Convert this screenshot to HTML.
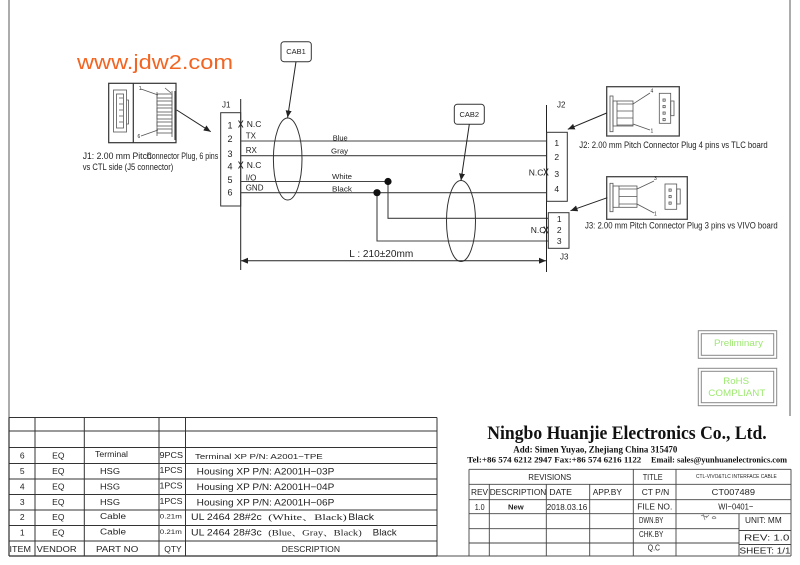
<!DOCTYPE html>
<html><head><meta charset="utf-8"><style>
html,body{margin:0;padding:0;background:#fff;}
svg{display:block;}
text{font-family:"Liberation Sans",sans-serif;dominant-baseline:central;fill:#222;}
.s{font-family:"Liberation Serif","Noto Serif CJK SC",serif;font-weight:bold;fill:#111;}
.c{font-family:"Liberation Serif","Noto Serif CJK SC",serif;}
.g{stroke:#555;stroke-width:0.8;fill:none;}
</style></head><body>
<svg width="800" height="565" viewBox="0 0 800 565" xmlns="http://www.w3.org/2000/svg">
<defs>
<marker id="ah" markerWidth="8" markerHeight="6" refX="7" refY="3" orient="auto-start-reverse" markerUnits="userSpaceOnUse"><path d="M0,0 L7,3 L0,6 z" fill="#222"/></marker>
</defs>
<rect width="800" height="565" fill="#fff"/>
<!-- page frame -->
<g stroke="#888" stroke-width="1.4" fill="none">
<line x1="9" y1="0" x2="9" y2="556"/>
<line x1="790" y1="0" x2="790" y2="416"/>
<line x1="9" y1="556" x2="791" y2="556"/>
</g>

<text x="77" y="63" font-size="20" fill="#f26522" style="fill:#f26522" textLength="156" lengthAdjust="spacingAndGlyphs">www.jdw2.com</text>

<!-- J1 connector picture -->
<rect x="108.7" y="83.3" width="67.3" height="59.4" fill="none" stroke="#333" stroke-width="1.2"/>
<line x1="133.3" y1="83.3" x2="133.3" y2="142.7" stroke="#333" stroke-width="1.2"/>
<rect x="113.5" y="90" width="13" height="42" class="g"/>
<rect x="116.5" y="94" width="7" height="34" class="g"/>
<g class="g">
<path d="M119,98h4M119,104h4M119,110h4M119,116h4M119,122h4"/>
<path d="M126.5,100h2v24h-2"/>
</g>
<g class="g">
<line x1="157" y1="92" x2="157" y2="136"/>
<rect x="157" y="94" width="15" height="4"/>
<rect x="157" y="101" width="15" height="4"/>
<rect x="157" y="108" width="15" height="4"/>
<rect x="157" y="115" width="15" height="4"/>
<rect x="157" y="122" width="15" height="4"/>
<rect x="157" y="129" width="15" height="4"/>
<line x1="172" y1="91" x2="172" y2="137"/>
<line x1="175" y1="91" x2="175" y2="140" stroke="#444" stroke-width="1.2"/>
<line x1="141" y1="89" x2="158" y2="95"/>
<line x1="141" y1="136" x2="158" y2="130"/>
<line x1="165" y1="88" x2="171" y2="93"/>
</g>
<text x="138.7" y="89" font-size="5" fill="#555">1</text>
<text x="137.5" y="137" font-size="5" fill="#555">6</text>
<line x1="176.7" y1="110" x2="210.7" y2="131.7" stroke="#222" stroke-width="1" marker-end="url(#ah)"/>
<text x="82.7" y="156" font-size="9" textLength="69" lengthAdjust="spacingAndGlyphs">J1: 2.00 mm Pitch</text>
<text x="146.7" y="156" font-size="9" textLength="71.6" lengthAdjust="spacingAndGlyphs">Connector Plug, 6 pins</text>
<text x="82.7" y="167" font-size="9" textLength="90.6" lengthAdjust="spacingAndGlyphs">vs CTL side (J5 connector)</text>

<!-- J1 -->
<text x="222" y="105" font-size="8">J1</text>
<line x1="240.7" y1="99" x2="240.7" y2="270" stroke="#222" stroke-width="1"/>
<rect x="220.7" y="112.7" width="20" height="93.3" fill="none" stroke="#333" stroke-width="1"/>
<g font-size="9" text-anchor="middle">
<text x="230" y="125.7">1</text><text x="230" y="139">2</text><text x="230" y="154">3</text>
<text x="230" y="166.7">4</text><text x="230" y="180">5</text><text x="230" y="192.7">6</text>
</g>
<g stroke="#222" stroke-width="0.9">
<path d="M238.5,120.5L243,127.5M243,120.5L238.5,127.5"/>
<path d="M238.5,161.5L243,168.5M243,161.5L238.5,168.5"/>
</g>
<g font-size="8.5">
<text x="246.7" y="124">N.C</text><text x="246.7" y="165">N.C</text>
</g>
<g font-size="8">
<text x="245.7" y="136">TX</text><text x="245.7" y="150.7">RX</text>
<text x="245.7" y="178">I/O</text><text x="245.7" y="188">GND</text>
</g>
<g font-size="7.5" font-family="Liberation Mono">
<text x="332.7" y="138" textLength="15" lengthAdjust="spacingAndGlyphs">Blue</text>
<text x="331" y="151" textLength="17" lengthAdjust="spacingAndGlyphs">Gray</text>
<text x="332" y="176.7" textLength="20" lengthAdjust="spacingAndGlyphs">White</text>
<text x="332" y="189" textLength="20" lengthAdjust="spacingAndGlyphs">Black</text>
</g>

<!-- wires -->
<g stroke="#444" stroke-width="1.1" fill="none">
<path d="M241,141H546.7"/>
<path d="M241,155.7H546.7"/>
<path d="M241,181.5H388V218.3H548.3"/>
<path d="M241,192.7H546.7"/>
<path d="M377,192.7V241H548.3"/>
</g>
<circle cx="388" cy="181.5" r="3.6" fill="#111"/>
<circle cx="377" cy="192.7" r="3.6" fill="#111"/>

<!-- CAB1 -->
<ellipse cx="287.7" cy="159" rx="14.3" ry="41" fill="none" stroke="#333" stroke-width="1"/>
<rect x="281" y="41.7" width="30.3" height="20" rx="3" fill="#fff" stroke="#333" stroke-width="1"/>
<text x="296" y="51.7" font-size="7.5" text-anchor="middle">CAB1</text>
<line x1="296" y1="61.7" x2="287.6" y2="117.5" stroke="#222" stroke-width="1" marker-end="url(#ah)"/>
<!-- CAB2 -->
<ellipse cx="461" cy="221" rx="14.5" ry="40.5" fill="none" stroke="#333" stroke-width="1"/>
<rect x="454.3" y="104.3" width="30" height="20" rx="3" fill="#fff" stroke="#333" stroke-width="1"/>
<text x="469.3" y="114.3" font-size="7.5" text-anchor="middle">CAB2</text>
<line x1="469.3" y1="124.3" x2="461" y2="180.5" stroke="#222" stroke-width="1" marker-end="url(#ah)"/>

<!-- J2 / J3 -->
<line x1="546.5" y1="105" x2="546.5" y2="272" stroke="#222" stroke-width="1"/>
<text x="557" y="105" font-size="8">J2</text>
<rect x="546.7" y="132.3" width="20.6" height="69" fill="none" stroke="#333" stroke-width="1"/>
<g font-size="8.5" text-anchor="middle">
<text x="556.7" y="143">1</text><text x="556.7" y="157">2</text><text x="556.7" y="174">3</text><text x="556.7" y="189">4</text>
</g>
<text x="528.7" y="172.7" font-size="8.5">N.C</text>
<path d="M543.8,168.5L548.2,175.5M548.2,168.5L543.8,175.5" stroke="#222" stroke-width="0.9"/>
<rect x="548.3" y="212.7" width="20.7" height="35.6" fill="none" stroke="#333" stroke-width="1"/>
<g font-size="8.5" text-anchor="middle">
<text x="559.3" y="219">1</text><text x="559.3" y="230">2</text><text x="559.3" y="241">3</text>
</g>
<text x="530.7" y="230" font-size="8.5">N.C</text>
<path d="M543.8,226.5L548.2,233.5M548.2,226.5L543.8,233.5" stroke="#222" stroke-width="0.9"/>
<text x="560" y="257" font-size="8">J3</text>

<!-- dimension -->
<line x1="241" y1="260.7" x2="546" y2="260.7" stroke="#222" stroke-width="1" marker-start="url(#ah)" marker-end="url(#ah)"/>
<text x="349.3" y="254" font-size="10.5" textLength="64" lengthAdjust="spacingAndGlyphs">L : 210±20mm</text>

<!-- J2 picture -->
<rect x="606.7" y="86.7" width="72.6" height="49.3" fill="none" stroke="#444" stroke-width="1.3"/>
<g class="g">
<rect x="610" y="96" width="3" height="35.7"/>
<rect x="613" y="101" width="20" height="25"/>
<path d="M617,104h16M617,111h16M617,118h16M617,125h16M617,101v25"/>
<line x1="650" y1="93" x2="633" y2="104"/>
<line x1="650" y1="130" x2="633" y2="124"/>
<rect x="659.3" y="93.3" width="11.4" height="30"/>
<rect x="670.7" y="101" width="3.3" height="14.7"/>
<rect x="663" y="99" width="2.2" height="2.2"/><rect x="663" y="105.5" width="2.2" height="2.2"/>
<rect x="663" y="112" width="2.2" height="2.2"/><rect x="663" y="118.5" width="2.2" height="2.2"/>
</g>
<text x="650.5" y="91.7" font-size="5" fill="#555">4</text>
<text x="650.5" y="131.7" font-size="5" fill="#555">1</text>
<line x1="606.7" y1="113" x2="567.8" y2="129.3" stroke="#222" stroke-width="1" marker-end="url(#ah)"/>
<text x="579.3" y="145" font-size="9" textLength="188.4" lengthAdjust="spacingAndGlyphs">J2: 2.00 mm Pitch Connector Plug 4 pins vs TLC board</text>

<!-- J3 picture -->
<rect x="606.7" y="176.7" width="80.6" height="42.6" fill="none" stroke="#444" stroke-width="1.3"/>
<g class="g">
<rect x="610" y="183.3" width="3" height="28.4"/>
<rect x="613" y="186" width="24" height="21.3"/>
<path d="M619,189h18M619,196.5h18M619,204h18M619,186v21.3"/>
<line x1="654" y1="181" x2="637" y2="189"/>
<line x1="654" y1="213" x2="637" y2="204"/>
<rect x="665" y="184" width="11.7" height="25.3"/>
<rect x="676.7" y="189" width="3.5" height="15"/>
<rect x="669" y="189" width="2.2" height="2.2"/><rect x="669" y="195.5" width="2.2" height="2.2"/><rect x="669" y="202" width="2.2" height="2.2"/>
</g>
<text x="654" y="179" font-size="5" fill="#555">3</text>
<text x="654" y="214.3" font-size="5" fill="#555">1</text>
<line x1="607.3" y1="197.7" x2="570.5" y2="210.7" stroke="#222" stroke-width="1" marker-end="url(#ah)"/>
<text x="585" y="225.7" font-size="9" textLength="192.7" lengthAdjust="spacingAndGlyphs">J3: 2.00 mm Pitch Connector Plug 3 pins vs VIVO board</text>

<!-- Preliminary / RoHS -->
<g fill="none" stroke="#888" stroke-width="1">
<rect x="698.3" y="330.7" width="78.4" height="27.6"/>
<rect x="701.3" y="333.7" width="72.4" height="21.6"/>
<rect x="698.3" y="368.3" width="78.4" height="37.4"/>
<rect x="701.3" y="371.3" width="72.4" height="31.4"/>
</g>
<text x="714" y="343.5" font-size="9.5" style="fill:#9de870" textLength="49" lengthAdjust="spacingAndGlyphs">Preliminary</text>
<text x="723.3" y="381.7" font-size="9.5" style="fill:#9de870" textLength="25.7" lengthAdjust="spacingAndGlyphs">RoHS</text>
<text x="708.3" y="393.3" font-size="9.5" style="fill:#9de870" textLength="57" lengthAdjust="spacingAndGlyphs">COMPLIANT</text>

<!-- Left BOM table -->
<g stroke="#333" stroke-width="1">
<path d="M9,417.5H437M9,431H437M9,447.5H437M9,463.5H437M9,479H437M9,494.5H437M9,510H437M9,525.5H437M9,541H437M9,556H437"/>
<path d="M9,417.5V556M35,417.5V556M84.3,417.5V556M159,417.5V556M185.5,417.5V556M437,417.5V556"/>
</g>
<g font-size="8.5" text-anchor="middle">
<text x="22.3" y="455.7">6</text><text x="58.3" y="455.7">EQ</text>
<text x="22.3" y="471">5</text><text x="58.3" y="471">EQ</text>
<text x="22.3" y="486.3">4</text><text x="58.3" y="486.3">EQ</text>
<text x="22.3" y="502">3</text><text x="58.3" y="502">EQ</text>
<text x="22.3" y="517">2</text><text x="58.3" y="517">EQ</text>
<text x="22.3" y="532.7">1</text><text x="58.3" y="532.7">EQ</text>
</g>
<g font-size="8.5">
<text x="95" y="454.5" font-size="8" textLength="33" lengthAdjust="spacingAndGlyphs">Terminal</text>
<text x="100" y="471" textLength="20" lengthAdjust="spacingAndGlyphs">HSG</text>
<text x="100" y="486.3" textLength="20" lengthAdjust="spacingAndGlyphs">HSG</text>
<text x="100" y="502" textLength="20" lengthAdjust="spacingAndGlyphs">HSG</text>
<text x="100" y="516" textLength="26" lengthAdjust="spacingAndGlyphs">Cable</text>
<text x="100" y="531.5" textLength="26" lengthAdjust="spacingAndGlyphs">Cable</text>
<text x="159.5" y="455" textLength="23.5" lengthAdjust="spacingAndGlyphs">9PCS</text>
<text x="159.5" y="470" textLength="23" lengthAdjust="spacingAndGlyphs">1PCS</text>
<text x="159.5" y="485.3" textLength="23" lengthAdjust="spacingAndGlyphs">1PCS</text>
<text x="159.5" y="501" textLength="23" lengthAdjust="spacingAndGlyphs">1PCS</text>
<text x="159.8" y="517" font-size="6.5" textLength="22" lengthAdjust="spacingAndGlyphs">0.21m</text>
<text x="159.8" y="532.7" font-size="6.5" textLength="22" lengthAdjust="spacingAndGlyphs">0.21m</text>
<text x="195" y="456.5" font-size="7.5" textLength="127.7" lengthAdjust="spacingAndGlyphs">Terminal XP P/N: A2001−TPE</text>
<text x="196.7" y="472" font-size="9.5" textLength="137.6" lengthAdjust="spacingAndGlyphs">Housing XP P/N: A2001H−03P</text>
<text x="196.7" y="487.3" font-size="9.5" textLength="137.6" lengthAdjust="spacingAndGlyphs">Housing XP P/N: A2001H−04P</text>
<text x="196.7" y="503" font-size="9.5" textLength="137.6" lengthAdjust="spacingAndGlyphs">Housing XP P/N: A2001H−06P</text>
<text x="191" y="517.5" font-size="9.5" textLength="70.7" lengthAdjust="spacingAndGlyphs">UL 2464 28#2c</text>
<text x="268.3" y="517.5" font-size="8" class="c" textLength="78.4" lengthAdjust="spacingAndGlyphs">(White、Black)</text>
<text x="348.3" y="517.5" font-size="9.5" textLength="25.7" lengthAdjust="spacingAndGlyphs">Black</text>
<text x="191" y="533.2" font-size="9.5" textLength="70.7" lengthAdjust="spacingAndGlyphs">UL 2464 28#3c</text>
<text x="268.3" y="533.2" font-size="8" class="c" textLength="93.4" lengthAdjust="spacingAndGlyphs">(Blue、Gray、Black)</text>
<text x="372.7" y="533.2" font-size="9.5" textLength="24" lengthAdjust="spacingAndGlyphs">Black</text>
<text x="9.5" y="549" textLength="21.5" lengthAdjust="spacingAndGlyphs">ITEM</text>
<text x="36.7" y="549" textLength="40" lengthAdjust="spacingAndGlyphs">VENDOR</text>
<text x="96" y="549" textLength="42.3" lengthAdjust="spacingAndGlyphs">PART NO</text>
<text x="164.3" y="549" textLength="17.4" lengthAdjust="spacingAndGlyphs">QTY</text>
<text x="281.7" y="549" textLength="58.3" lengthAdjust="spacingAndGlyphs">DESCRIPTION</text>
</g>

<!-- Company header -->
<text x="487.3" y="433.3" font-size="19" class="s" textLength="279.4" lengthAdjust="spacingAndGlyphs">Ningbo Huanjie Electronics Co., Ltd.</text>
<text x="513.3" y="449.3" font-size="9" class="s" textLength="164" lengthAdjust="spacingAndGlyphs">Add: Simen Yuyao, Zhejiang China 315470</text>
<text x="467.3" y="459.5" font-size="8.5" class="s" textLength="174" lengthAdjust="spacingAndGlyphs">Tel:+86 574 6212 2947 Fax:+86 574 6216 1122</text>
<text x="651" y="459.5" font-size="8.5" class="s" textLength="136" lengthAdjust="spacingAndGlyphs">Email: sales@yunhuanelectronics.com</text>

<!-- Right title block -->
<g stroke="#444" stroke-width="0.9">
<path d="M469,469.3H791M469,484.3H791M469,499.7H791M469,513.7H791M469,528.7H739M469,543H739M739,530.5H791M739,544.5H791"/>
<path d="M469,469.3V556M489.3,484.3V556M546.3,484.3V556M589.7,484.3V556M633.3,469.3V556M676,469.3V556M739,513.7V556M791,469.3V556"/>
</g>
<g font-size="8.5" fill="#333">
<text x="528.3" y="477" textLength="43" lengthAdjust="spacingAndGlyphs">REVISIONS</text>
<text x="471" y="492" textLength="17" lengthAdjust="spacingAndGlyphs">REV</text>
<text x="489.7" y="492" textLength="56.6" lengthAdjust="spacingAndGlyphs">DESCRIPTION</text>
<text x="549.3" y="492" textLength="22.7" lengthAdjust="spacingAndGlyphs">DATE</text>
<text x="592.7" y="492" textLength="29.3" lengthAdjust="spacingAndGlyphs">APP.BY</text>
<text x="474.7" y="507" textLength="10" lengthAdjust="spacingAndGlyphs">1.0</text>
<text x="508" y="507" font-size="7.5" font-weight="bold" textLength="15.7" lengthAdjust="spacingAndGlyphs">New</text>
<text x="546.8" y="507" textLength="40.5" lengthAdjust="spacingAndGlyphs">2018.03.16</text>
<text x="642.7" y="476.8" textLength="20" lengthAdjust="spacingAndGlyphs">TITLE</text>
<text x="641.7" y="492" textLength="27.6" lengthAdjust="spacingAndGlyphs">CT P/N</text>
<text x="637.3" y="506.7" textLength="35" lengthAdjust="spacingAndGlyphs">FILE NO.</text>
<text x="639" y="520" textLength="24.3" lengthAdjust="spacingAndGlyphs">DWN.BY</text>
<text x="639" y="534" textLength="24.3" lengthAdjust="spacingAndGlyphs">CHK.BY</text>
<text x="647.7" y="547.5" textLength="12.3" lengthAdjust="spacingAndGlyphs">Q.C</text>
<text x="696" y="476.8" font-size="5" textLength="80.7" lengthAdjust="spacingAndGlyphs">CTL-VIVO&amp;TLC INTERFACE CABLE</text>
<text x="711.7" y="492" textLength="43.3" lengthAdjust="spacingAndGlyphs">CT007489</text>
<text x="718.3" y="506.7" textLength="35" lengthAdjust="spacingAndGlyphs">WI−0401−</text>
<text x="745" y="520" textLength="36.7" lengthAdjust="spacingAndGlyphs">UNIT: MM</text>
<text x="744" y="537.5" textLength="45.3" lengthAdjust="spacingAndGlyphs">REV:   1.0</text>
<text x="739.5" y="550.5" textLength="51" lengthAdjust="spacingAndGlyphs">SHEET:  1/1</text>
</g>
<path d="M701,516c2,-2 4,2 6,0M703,514l2,6M706,518l3,-3M712,518c1,-2 3,-2 4,0c-1,1 -3,1 -4,0" stroke="#777" stroke-width="0.7" fill="none"/>
</svg>
</body></html>
